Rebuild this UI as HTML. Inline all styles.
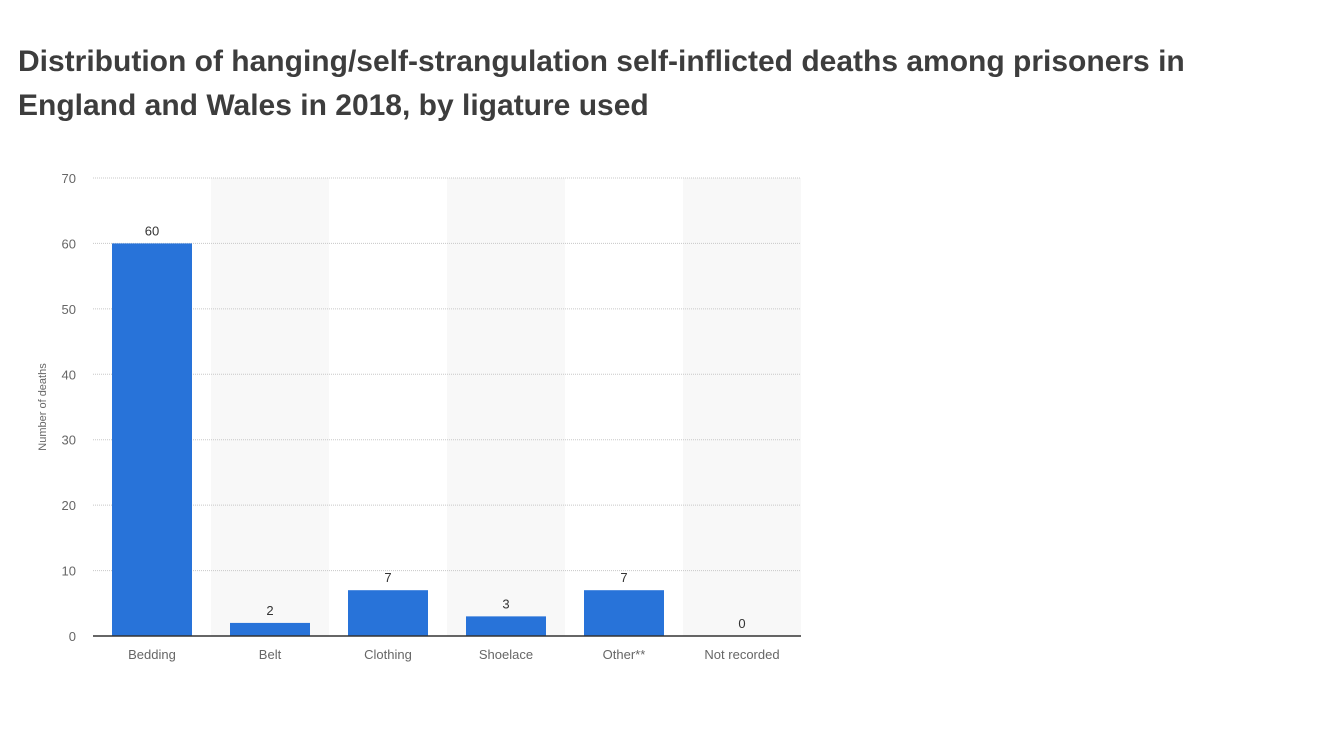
<!DOCTYPE html>
<html><head><meta charset="utf-8"><style>
body{margin:0;background:#fff;width:1320px;height:742px;overflow:hidden;font-family:"Liberation Sans",sans-serif}
h1{position:absolute;left:18px;top:40px;margin:0;font-size:30px;line-height:44px;font-weight:bold;color:#3d3d3d;width:1290px}
svg{position:absolute;left:0;top:0}
</style></head><body>
<h1>Distribution of hanging/self-strangulation self-inflicted deaths among prisoners in England and Wales in 2018, by ligature used</h1>
<svg id="c" width="1320" height="742"></svg>
<script>
const categories=["Bedding","Belt","Clothing","Shoelace","Other**","Not recorded"];
const values=[60,2,7,3,7,0];
const ticks=[0,10,20,30,40,50,60,70];
const NS="http://www.w3.org/2000/svg";
const svg=document.getElementById("c");
const x0=93,x1=801,y0=636,y1=178,yMax=70;
const bw=(x1-x0)/categories.length;
const y=v=>y0-(v/yMax)*(y0-y1);
const xc=i=>x0+bw*(i+0.5);
function mk(t,a){const e=document.createElementNS(NS,t);for(const k in a)e.setAttribute(k,a[k]);svg.appendChild(e);return e;}
categories.forEach((c,i)=>{if(i%2==1){const r=mk("rect",{x:x0+bw*i,y:y1,width:bw,height:y0-y1,fill:"#f8f8f8"});

}});
ticks.forEach(t=>{
const l=mk("line",{x1:x0,x2:x1,y1:y(t),y2:y(t),stroke:"#c8c8c8","stroke-dasharray":"1,1"});


const tx=mk("text",{x:76,y:y(t)+5,"text-anchor":"end","font-size":13,fill:"#666"});tx.textContent=t;


});
categories.forEach((c,i)=>{
const b=mk("rect",{x:xc(i)-40,y:y(values[i]),width:80,height:y0-y(values[i]),fill:"#2873d9"});


const v=mk("text",{x:xc(i),y:y(values[i])-8,"text-anchor":"middle","font-size":13,fill:"#333"});v.textContent=values[i];


const l=mk("text",{x:xc(i),y:659,"text-anchor":"middle","font-size":13,fill:"#666"});l.textContent=c;


});
const ax=mk("line",{x1:x0,x2:x1,y1:y0,y2:y0,stroke:"#333","stroke-width":1.5});


const yt=mk("text",{x:0,y:0,"text-anchor":"middle","font-size":11,fill:"#666",transform:"translate(46,407) rotate(-90)"});yt.textContent="Number of deaths";


</script>
</body></html>
